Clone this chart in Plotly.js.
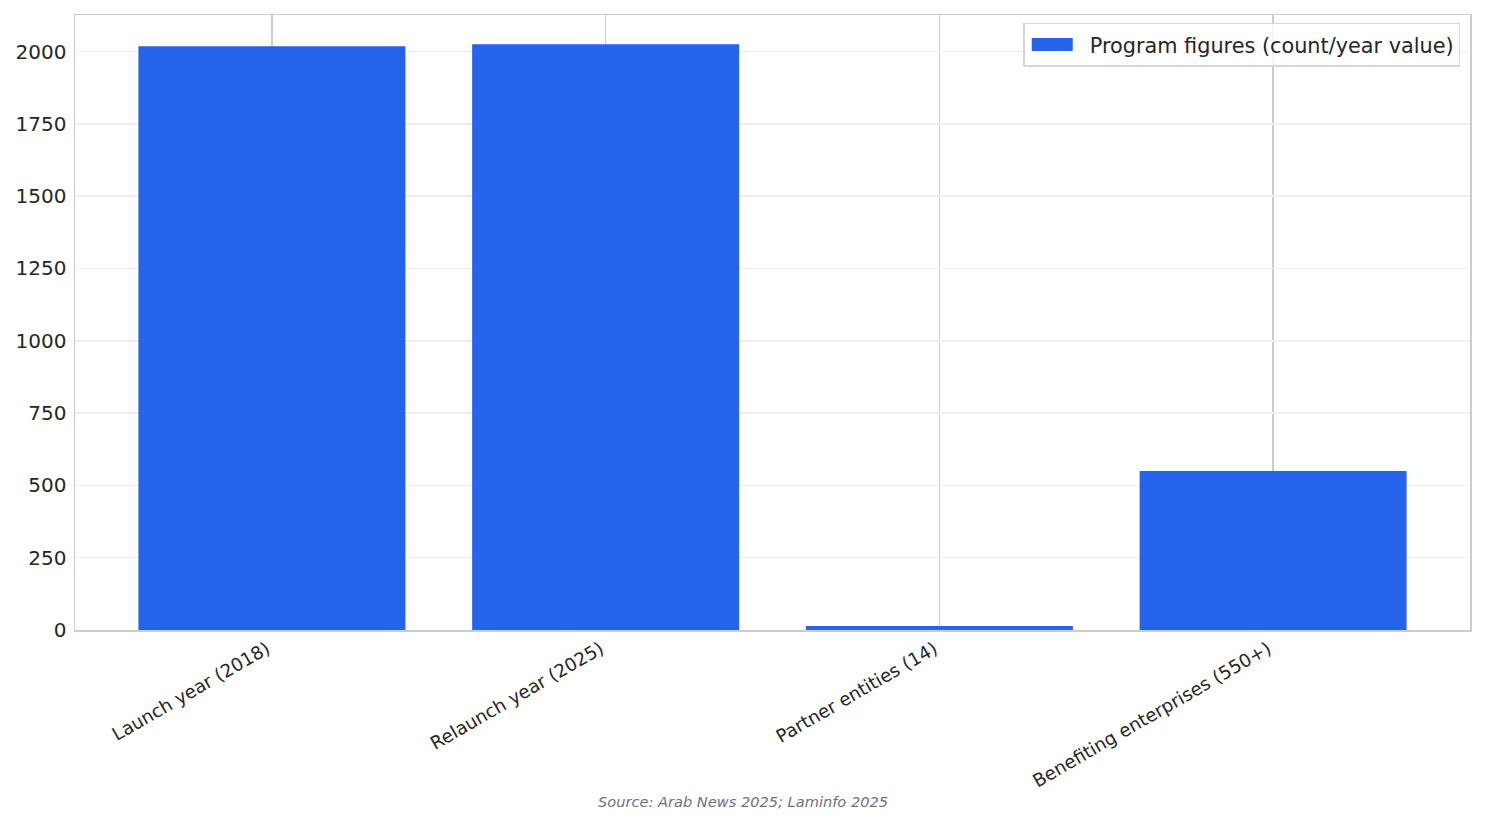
<!DOCTYPE html>
<html>
<head>
<meta charset="utf-8">
<script src="https://cdn.plot.ly/plotly-3.0.1.min.js"></script>
<style>html,body{margin:0;padding:0;background:#fff;}#chart{width:1485px;height:824px;}</style>
</head>
<body>
<div id="chart"></div>
<script>
const categories = ["Launch year (2018)", "Relaunch year (2025)", "Partner entities (14)", "Benefiting enterprises (550+)"];
const values = [2018, 2025, 14, 550];
const seriesName = "Program figures (count/year value)";
const yTicks = [0, 250, 500, 750, 1000, 1250, 1500, 1750, 2000];
const sourceText = "Source: Arab News 2025; Laminfo 2025";

const W = 1485, H = 824;
const m = {l: 75, r: 15, t: 15, b: 194};
const plotH = H - m.t - m.b;

const trace = {
  type: "bar",
  x: categories,
  y: values,
  name: seriesName,
  width: 0.8,
  marker: {color: "#2563EB", line: {width: 0}},
  showlegend: true,
  hoverinfo: "x+y"
};

const layout = {
  width: W, height: H,
  margin: m,
  paper_bgcolor: "#ffffff",
  plot_bgcolor: "#ffffff",
  font: {family: "DejaVu Sans, sans-serif", color: "#262626"},
  showlegend: true,
  legend: {
    x: 0.993, y: 0.987, xanchor: "right", yanchor: "top",
    bgcolor: "rgba(255,255,255,0.8)", bordercolor: "#d6d6d6", borderwidth: 1.5,
    font: {size: 20.8, color: "#262626", family: "DejaVu Sans, sans-serif"},
    itemwidth: 55
  },
  xaxis: {
    type: "category",
    range: [-0.59, 3.59],
    tickangle: -30,
    tickfont: {size: 18.2, color: "#262626"},
    showgrid: true, gridcolor: "#cccccc", gridwidth: 1.5,
    showline: true, mirror: true, linecolor: "#cccccc", linewidth: 1.5,
    ticks: "", ticklabelshift: -5, ticklabelstandoff: 0,
    zeroline: false, fixedrange: true
  },
  yaxis: {
    range: [0, 2126.25],
    tickmode: "array", tickvals: yTicks, ticktext: yTicks.map(String),
    tickfont: {size: 20, color: "#262626"},
    showgrid: true, gridcolor: "#efefef", gridwidth: 1.5,
    showline: true, mirror: true, linecolor: "#cccccc", linewidth: 1.5,
    ticks: "outside", ticklen: 3, tickcolor: "rgba(0,0,0,0)",
    zeroline: false, fixedrange: true
  },
  annotations: [{
    text: sourceText,
    xref: "paper", yref: "paper",
    x: (W / 2 - m.l) / (W - m.l - m.r), y: -(801 - (H - m.b)) / plotH,
    xanchor: "center", yanchor: "middle",
    showarrow: false,
    font: {size: 14.6, color: "#6b7280", family: "DejaVu Sans, sans-serif", style: "italic"}
  }]
};

Plotly.newPlot("chart", [trace], layout, {displayModeBar: false, staticPlot: true}).then(function (gd) {
  // reshape legend swatch into a matplotlib-like wide rectangle placed left of the text
  const txt = gd.querySelector(".legend .legendtext");
  gd.querySelectorAll(".legend .legendpoints path").forEach(function (p) {
    const pr = p.getBoundingClientRect();
    const cx = (pr.left + pr.right) / 2;
    const right = (txt ? txt.getBoundingClientRect().left : pr.right + 17) - 17;
    const left = right - 41;
    const a = (left - cx).toFixed(1), b = (right - cx).toFixed(1);
    p.setAttribute("d", "M" + b + ",6.5H" + a + "V-6.5H" + b + "Z");
  });
});
</script>
</body>
</html>
